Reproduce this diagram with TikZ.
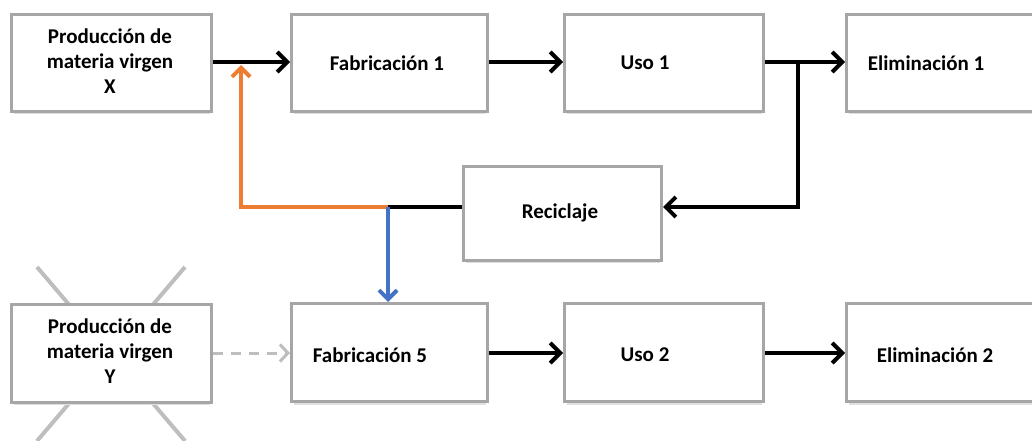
\documentclass[tikz,border=0pt]{standalone}
\usepackage{fontspec}
\setmainfont{Carlito}
\usetikzlibrary{arrows.meta}
\definecolor{boxgray}{RGB}{166,166,166}
\definecolor{xorange}{RGB}{237,125,49}
\definecolor{xblue}{RGB}{68,114,196}
\definecolor{crossgray}{RGB}{190,190,190}
\begin{document}
\begin{tikzpicture}[x=1pt,y=-1pt,
  box/.style={draw=boxgray,line width=3pt,fill=white,minimum width=#1,minimum height=97pt,inner sep=0pt,anchor=north west},
  txt/.style={font=\fontsize{21}{25}\selectfont\bfseries,align=center,inner sep=0pt},
  arr/.style={line width=4pt,-{Straight Barb[length=10pt,width=20pt,line width=4pt]}},
  plain/.style={line width=4pt},
  shadowline/.style={draw=gray!25,line width=2pt}]
\useasboundingbox (0,0) rectangle (1032,441);
\clip (0,0) rectangle (1032,441);
% crossing lines behind box Y
\draw[crossgray,line width=4pt] (37,267) -- (185,441);
\draw[crossgray,line width=4pt] (185,267) -- (37,441);
% shadows
\foreach \xa/\xb/\yy in {10/210/113,290/486/113,563/762/113,845/1040/113,462/660/262,10/210/404,290/486/404,563/762/404,845/1040/404}
  \draw[shadowline] (\xa+4,\yy) -- (\xb,\yy);
% boxes
\node[box=200pt] (px) at (10,13) {};
\node[box=196pt] (f1) at (290,13) {};
\node[box=199pt] (u1) at (563,13) {};
\node[box=220pt] (e1) at (845,13) {};
\node[box=198pt,minimum height=94pt] (rc) at (462,165) {};
\node[box=200pt,minimum height=98pt] (py) at (10,303) {};
\node[box=196pt,minimum height=98pt] (f5) at (290,302) {};
\node[box=199pt,minimum height=98pt] (u2) at (563,302) {};
\node[box=220pt,minimum height=98pt] (e2) at (845,302) {};
% texts
\node[txt] (tpx) at (110,61) {Producción de\\materia virgen\\X};
\node[txt] (tf1) at (387,63) {Fabricación 1};
\node[txt] (tu1) at (645,63) {Uso 1};
\node[txt] (te1) at (926,63) {Eliminación 1};
\node[txt] (trc) at (560,213) {Reciclaje};
\node[txt] (tpy) at (110,351) {Producción de\\materia virgen\\Y};
\node[txt] (tf5) at (370,355) {Fabricación 5};
\node[txt] (tu2) at (645,355) {Uso 2};
\node[txt] (te2) at (935,355) {Eliminación 2};
% coordinates
\coordinate (j) at (388,207);
\coordinate (ol) at (241,207);
\coordinate (br) at (798,62);
\coordinate (bd) at (798,207);
% row 1 arrows
\draw[arr] (px.east |- 0,62) -- (f1.west |- 0,62);
\draw[arr] (f1.east |- 0,62) -- (u1.west |- 0,62);
\draw[arr] (u1.east |- 0,62) -- (e1.west |- 0,62);
\draw[plain] (br) -- (bd) -- ++(-5,0);
\draw[arr] ([xshift=2pt]bd) -- (rc.east |- bd);
\draw[plain] (rc.west |- j) -- (j);
\draw[xorange,line width=4pt,-{Straight Barb[length=9pt,width=18pt,line width=4pt]}] (j) -- (ol) -- (241,65);
\draw[xblue,line width=4pt,-{Straight Barb[length=9pt,width=18pt,line width=4pt]}] (j) -- (f5.north -| j);
% row 2 arrows
\draw[crossgray,line width=3pt,dash pattern=on 10pt off 8pt,-{Straight Barb[length=8pt,width=17pt,line width=3pt]}] (py.east |- 0,353) -- (f5.west |- 0,353);
\draw[arr] (f5.east |- 0,353) -- (u2.west |- 0,353);
\draw[arr] (u2.east |- 0,353) -- (e2.west |- 0,353);
\end{tikzpicture}
\end{document}
